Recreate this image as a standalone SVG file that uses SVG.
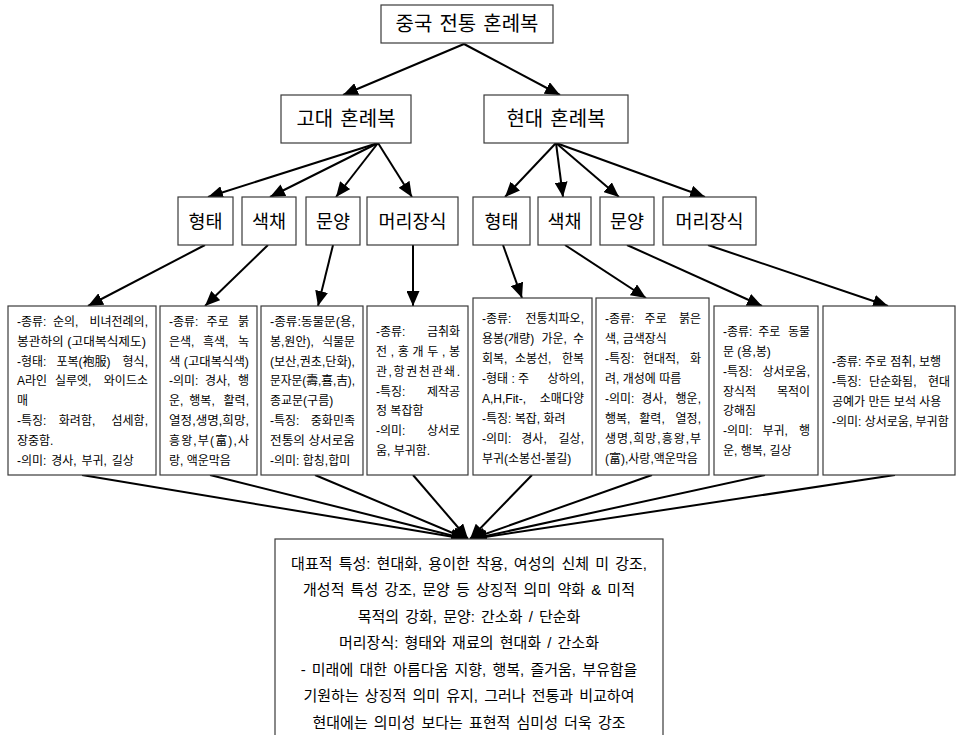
<svg xmlns="http://www.w3.org/2000/svg" width="957" height="735" viewBox="0 0 957 735">
<defs>
<marker id="ah" markerUnits="userSpaceOnUse" markerWidth="16" markerHeight="13" refX="15" refY="6.5" orient="auto">
<path d="M0,0 L15,6.5 L0,13 z" fill="#000"/>
</marker>
<style>
.box{fill:#fff;stroke:#3a3a3a;stroke-width:1.2}
.t{font-family:"Liberation Sans","Noto Sans CJK KR",sans-serif;font-size:12px;fill:#000}
.h1{font-family:"Liberation Sans","Noto Sans CJK KR",sans-serif;font-size:20px;word-spacing:1.5px;text-anchor:middle;fill:#000}
.h2{font-family:"Liberation Sans","Noto Sans CJK KR",sans-serif;font-size:18.5px;text-anchor:middle;fill:#000}
.b{font-family:"Liberation Sans","Noto Sans CJK KR",sans-serif;font-size:15px;word-spacing:2px;text-anchor:middle;fill:#000}
.e{text-anchor:end}
.c line{stroke:#000;stroke-width:2;marker-end:url(#ah)}
</style>
</defs>
<rect width="957" height="735" fill="#fff"/>

<g id="connectors" class="c">
<line x1="464" y1="44" x2="343" y2="95"/>
<line x1="464" y1="44" x2="560" y2="95"/>
<line x1="378" y1="143" x2="208" y2="197"/>
<line x1="378" y1="143" x2="270" y2="197"/>
<line x1="378" y1="143" x2="336" y2="197"/>
<line x1="378" y1="143" x2="412" y2="197"/>
<line x1="556" y1="143" x2="505" y2="197"/>
<line x1="556" y1="143" x2="563" y2="197"/>
<line x1="556" y1="143" x2="619" y2="197"/>
<line x1="556" y1="143" x2="705" y2="197"/>
<line x1="205" y1="245" x2="88" y2="306"/>
<line x1="268" y1="245" x2="205" y2="306"/>
<line x1="333" y1="245" x2="318" y2="306"/>
<line x1="413" y1="245" x2="413" y2="306"/>
<line x1="503" y1="245" x2="522" y2="298"/>
<line x1="565" y1="245" x2="646" y2="298"/>
<line x1="627" y1="245" x2="762" y2="306"/>
<line x1="708" y1="245" x2="888" y2="306"/>
<line x1="82" y1="475" x2="466" y2="539"/>
<line x1="210" y1="475" x2="466" y2="539"/>
<line x1="315" y1="475" x2="467" y2="539"/>
<line x1="413" y1="475" x2="468" y2="539"/>
<line x1="532" y1="475" x2="470" y2="539"/>
<line x1="652" y1="475" x2="471" y2="539"/>
<line x1="765" y1="475" x2="472" y2="539"/>
<line x1="895" y1="475" x2="472" y2="539"/>
</g>

<g id="root">
<rect class="box" x="381" y="5" width="172" height="38"/>
<text class="h1" x="467" y="31">중국 전통 혼례복</text>
</g>

<g id="ancient">
<rect class="box" x="281" y="95" width="130" height="48"/>
<text class="h1" x="346" y="126">고대 혼례복</text>
</g>
<g id="modern">
<rect class="box" x="484" y="95" width="144" height="48"/>
<text class="h1" x="556" y="126">현대 혼례복</text>
</g>

<g id="a-form"><rect class="box" x="178" y="197" width="55" height="48"/><text class="h2" x="205.5" y="228">형태</text></g>
<g id="a-color"><rect class="box" x="242" y="197" width="54" height="48"/><text class="h2" x="269" y="228">색채</text></g>
<g id="a-pattern"><rect class="box" x="306" y="197" width="54" height="48"/><text class="h2" x="333" y="228">문양</text></g>
<g id="a-head"><rect class="box" x="367" y="197" width="91" height="48"/><text class="h2" x="412.5" y="228">머리장식</text></g>
<g id="m-form"><rect class="box" x="473" y="197" width="57" height="48"/><text class="h2" x="501.5" y="228">형태</text></g>
<g id="m-color"><rect class="box" x="538" y="197" width="53" height="48"/><text class="h2" x="564.5" y="228">색채</text></g>
<g id="m-pattern"><rect class="box" x="600" y="197" width="54" height="48"/><text class="h2" x="627" y="228">문양</text></g>
<g id="m-head"><rect class="box" x="663" y="197" width="93" height="48"/><text class="h2" x="709.5" y="228">머리장식</text></g>

<g id="d1">
<rect class="box" x="8" y="306" width="148" height="169"/>
<text class="t" y="326"><tspan x="17">-종류:</tspan><tspan x="52.9">순의,</tspan><tspan x="148" class="e">비녀전례의,</tspan></text>
<text class="t" x="17" y="345.8" textLength="129" lengthAdjust="spacingAndGlyphs">봉관하의 (고대복식제도)</text>
<text class="t" y="365.6"><tspan x="17">-형태:</tspan><tspan x="56.5">포복(袍服)</tspan><tspan x="148" class="e">형식,</tspan></text>
<text class="t" y="385.4"><tspan x="17">A라인</tspan><tspan x="54.9">실루엣,</tspan><tspan x="148" class="e">와이드소</tspan></text>
<text class="t" x="17" y="405.2">매</text>
<text class="t" y="425"><tspan x="17">-특징:</tspan><tspan x="58.8">화려함,</tspan><tspan x="148" class="e">섬세함,</tspan></text>
<text class="t" x="17" y="444.8">장중함.</text>
<text class="t" x="17" y="464.6" word-spacing="1.5">-의미: 경사, 부귀, 길상</text>
</g>

<g id="d2">
<rect class="box" x="160" y="306" width="97" height="169"/>
<text class="t" y="326"><tspan x="169">-종류:</tspan><tspan x="206.6">주로</tspan><tspan x="249" class="e">붉</tspan></text>
<text class="t" y="345.8"><tspan x="169">은색,</tspan><tspan x="203">흑색,</tspan><tspan x="249" class="e">녹</tspan></text>
<text class="t" x="169" y="365.6" textLength="80" lengthAdjust="spacingAndGlyphs">색 (고대복식색)</text>
<text class="t" y="385.4"><tspan x="169">-의미:</tspan><tspan x="205">경사,</tspan><tspan x="249" class="e">행</tspan></text>
<text class="t" y="405.2"><tspan x="169">운,</tspan><tspan x="189.3">행복,</tspan><tspan x="249" class="e">활력,</tspan></text>
<text class="t" x="169" y="425" textLength="80" lengthAdjust="spacingAndGlyphs">열정,생명,희망,</text>
<text class="t" x="169" y="444.8" textLength="80" lengthAdjust="spacing">흥왕,부(富),사</text>
<text class="t" x="169" y="464.6">랑, 액운막음</text>
</g>

<g id="d3">
<rect class="box" x="261" y="306" width="102" height="169"/>
<text class="t" x="270" y="326" textLength="85" lengthAdjust="spacingAndGlyphs">-종류:동물문(용,</text>
<text class="t" y="345.8"><tspan x="270">봉,원안),</tspan><tspan x="355" class="e">식물문</tspan></text>
<text class="t" x="270" y="365.6" textLength="85" lengthAdjust="spacingAndGlyphs">(보산,권초,단화),</text>
<text class="t" x="270" y="385.4" textLength="85" lengthAdjust="spacingAndGlyphs">문자문(壽,喜,吉),</text>
<text class="t" x="270" y="405.2">종교문(구름)</text>
<text class="t" y="425"><tspan x="270">-특징:</tspan><tspan x="355" class="e">중화민족</tspan></text>
<text class="t" x="270" y="444.8" textLength="85" lengthAdjust="spacingAndGlyphs">전통의 상서로움</text>
<text class="t" x="270" y="464.6">-의미: 합칭,합미</text>
</g>

<g id="d4">
<rect class="box" x="367" y="306" width="101" height="169"/>
<text class="t" y="336.4"><tspan x="376">-종류:</tspan><tspan x="460" class="e">금취화</tspan></text>
<text class="t" x="376" y="356.1" textLength="84" lengthAdjust="spacing">전,홍개두,봉</text>
<text class="t" x="376" y="375.8" textLength="84" lengthAdjust="spacing">관,항권천관쇄.</text>
<text class="t" y="395.5"><tspan x="376">-특징:</tspan><tspan x="460" class="e">제작공</tspan></text>
<text class="t" x="376" y="415.2">정 복잡함</text>
<text class="t" y="434.9"><tspan x="376">-의미:</tspan><tspan x="460" class="e">상서로</tspan></text>
<text class="t" x="376" y="454.6">움, 부귀함.</text>
</g>

<g id="d5">
<rect class="box" x="473" y="298" width="119" height="177"/>
<text class="t" y="322.5"><tspan x="482">-종류:</tspan><tspan x="584" class="e">전통치파오,</tspan></text>
<text class="t" y="342.5"><tspan x="482">용봉(개량)</tspan><tspan x="541.4">가운,</tspan><tspan x="584" class="e">수</tspan></text>
<text class="t" y="362.5"><tspan x="482">회복,</tspan><tspan x="515">소봉선,</tspan><tspan x="584" class="e">한복</tspan></text>
<text class="t" y="382.5"><tspan x="482">-형태 : 주</tspan><tspan x="584" class="e">상하의,</tspan></text>
<text class="t" y="402.5"><tspan x="482">A,H,Fit-,</tspan><tspan x="584" class="e">소매다양</tspan></text>
<text class="t" x="482" y="422.5">-특징: 복잡, 화려</text>
<text class="t" y="442.5"><tspan x="482">-의미:</tspan><tspan x="521.3">경사,</tspan><tspan x="584" class="e">길상,</tspan></text>
<text class="t" x="482" y="462.5">부귀(소봉선-불길)</text>
</g>

<g id="d6">
<rect class="box" x="596" y="298" width="113" height="177"/>
<text class="t" y="322.5"><tspan x="605">-종류:</tspan><tspan x="644.6">주로</tspan><tspan x="701" class="e">붉은</tspan></text>
<text class="t" x="605" y="342.5">색, 금색장식</text>
<text class="t" y="362.5"><tspan x="605">-특징:</tspan><tspan x="643">현대적,</tspan><tspan x="701" class="e">화</tspan></text>
<text class="t" x="605" y="382.5">려, 개성에 따름</text>
<text class="t" y="402.5"><tspan x="605">-의미:</tspan><tspan x="641.3">경사,</tspan><tspan x="701" class="e">행운,</tspan></text>
<text class="t" y="422.5"><tspan x="605">행복,</tspan><tspan x="639.3">활력,</tspan><tspan x="701" class="e">열정,</tspan></text>
<text class="t" x="605" y="442.5" textLength="96" lengthAdjust="spacing">생명,희망,흥왕,부</text>
<text class="t" x="605" y="462.5">(富),사랑,액운막음</text>
</g>

<g id="d7">
<rect class="box" x="714" y="306" width="104" height="169"/>
<text class="t" y="336.4"><tspan x="723">-종류:</tspan><tspan x="758.2">주로</tspan><tspan x="810" class="e">동물</tspan></text>
<text class="t" x="723" y="356.1">문 (용,봉)</text>
<text class="t" y="375.8"><tspan x="723">-특징:</tspan><tspan x="810" class="e">상서로움,</tspan></text>
<text class="t" y="395.5"><tspan x="723">장식적</tspan><tspan x="810" class="e">목적이</tspan></text>
<text class="t" x="723" y="415.2">강해짐</text>
<text class="t" y="434.9"><tspan x="723">-의미:</tspan><tspan x="762.5">부귀,</tspan><tspan x="810" class="e">행</tspan></text>
<text class="t" x="723" y="454.6">운, 행복, 길상</text>
</g>

<g id="d8">
<rect class="box" x="823" y="306" width="132" height="169"/>
<text class="t" x="832" y="366.4">-종류: 주로 점취, 보행</text>
<text class="t" y="386.1"><tspan x="832">-특징:</tspan><tspan x="869">단순화됨,</tspan><tspan x="950" class="e">현대</tspan></text>
<text class="t" x="832" y="405.8">공예가 만든 보석 사용</text>
<text class="t" x="832" y="425.5">-의미: 상서로움, 부귀함</text>
</g>

<g id="summary">
<rect class="box" x="275" y="539" width="388" height="205"/>
<text class="b" x="469" y="568.5">대표적 특성: 현대화, 용이한 착용, 여성의 신체 미 강조,</text>
<text class="b" x="469" y="595">개성적 특성 강조, 문양 등 상징적 의미 약화 &amp; 미적</text>
<text class="b" x="469" y="621.5">목적의 강화, 문양: 간소화 / 단순화</text>
<text class="b" x="469" y="648">머리장식: 형태와 재료의 현대화 / 간소화</text>
<text class="b" x="469" y="674.5">- 미래에 대한 아름다움 지향, 행복, 즐거움, 부유함을</text>
<text class="b" x="469" y="701">기원하는 상징적 의미 유지, 그러나 전통과 비교하여</text>
<text class="b" x="469" y="727.5">현대에는 의미성 보다는 표현적 심미성 더욱 강조</text>
</g>
</svg>
